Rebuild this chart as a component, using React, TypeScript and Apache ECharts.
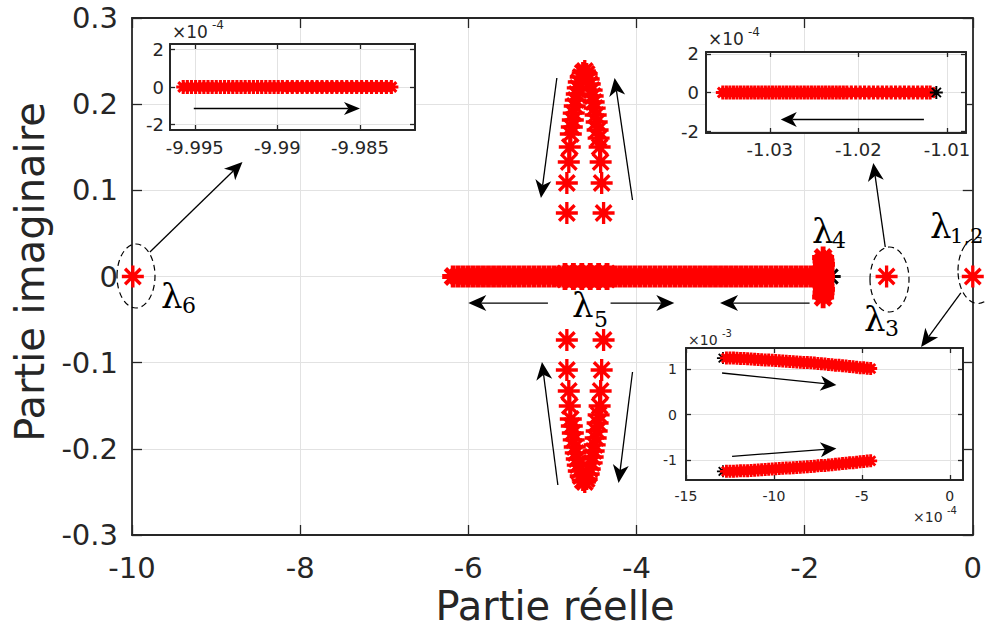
import { useEffect, useRef } from 'react';
import * as echarts from 'echarts';

// ---------- tick values / labels ----------
const mainXTicks = [-10, -8, -6, -4, -2, 0];
const mainXTickLabels = ['-10', '-8', '-6', '-4', '-2', '0'];
const mainYTicks = [-0.3, -0.2, -0.1, 0, 0.1, 0.2, 0.3];
const mainYTickLabels = ['-0.3', '-0.2', '-0.1', '0', '0.1', '0.2', '0.3'];

const tlXTicks = [-9.995, -9.99, -9.985];
const tlXTickLabels = ['-9.995', '-9.99', '-9.985'];
const tlYTicks = [-2, 0, 2];
const tlYTickLabels = ['-2', '0', '2'];

const trXTicks = [-1.03, -1.02, -1.01];
const trXTickLabels = ['-1.03', '-1.02', '-1.01'];
const trYTicks = [-2, 0, 2];
const trYTickLabels = ['-2', '0', '2'];

const brXTicks = [-15, -10, -5, 0];
const brXTickLabels = ['-15', '-10', '-5', '0'];
const brYTicks = [-1, 0, 1];
const brYTickLabels = ['-1', '0', '1'];

// ---------- main plot data ----------
const lambda6 = [[-9.99, 0]];
const lambda3 = [[-1.025, 0]];
const lambda12 = [[0, 0]];
const mainInitial = [[-1.69, 0]];

const lambda4Re = [-1.78, -1.775, -1.77, -1.775, -1.78, -1.775, -1.77, -1.775, -1.78, -1.775, -1.77, -1.775, -1.78];
const lambda4Im = [0.022, 0.018, 0.014, 0.01, 0.006, 0.003, 0, -0.003, -0.007, -0.011, -0.015, -0.019, -0.024];

const lambda5Re = [
  -6.18, -6.12, -6.06, -6.0, -5.94, -5.88, -5.82, -5.76, -5.7, -5.64, -5.58, -5.52, -5.46, -5.4, -5.34,
  -5.28, -5.22, -5.16, -5.1, -5.04, -4.98, -4.92, -4.86, -4.8, -4.74, -4.68, -4.62, -4.56, -4.5, -4.44,
  -4.38, -4.32, -4.26, -4.2, -4.14, -4.08, -4.02, -3.96, -3.9, -3.84, -3.78, -3.72, -3.66, -3.6, -3.54,
  -3.48, -3.42, -3.36, -3.3, -3.24, -3.18, -3.12, -3.06, -3.0, -2.94, -2.88, -2.82, -2.76, -2.7, -2.64,
  -2.58, -2.52, -2.46, -2.4, -2.34, -2.28, -2.22, -2.16, -2.1, -2.04, -1.98, -1.92, -1.86, -1.8,
];
const lambda5BlobRe = [-4.85, -4.75, -4.65, -4.55, -4.45, -4.35];
const lambda5BlobIm = 0.003;

// complex loop (upper half; lower half is its conjugate)
const loopRe = [
  -4.391, -4.414, -4.426, -4.438, -4.45, -4.462, -4.473, -4.485, -4.497, -4.509, -4.521, -4.533, -4.556, -4.568, -4.592, -4.615,
  -4.639, -4.663, -4.686, -4.698, -4.71, -4.722, -4.734, -4.746, -4.757, -4.769, -4.781, -4.793, -4.805, -4.828, -4.828,
];
const loopIm = [
  0.0737, 0.1085, 0.1329, 0.1503, 0.1607, 0.17, 0.1793, 0.1874, 0.1955, 0.2025, 0.2095, 0.2164, 0.2234, 0.2292, 0.235, 0.2385,
  0.2362, 0.2315, 0.2257, 0.2188, 0.2118, 0.2048, 0.1979, 0.1897, 0.1816, 0.1735, 0.1654, 0.1503, 0.1329, 0.1085, 0.0737,
];

// ---------- inset data ----------
const tlRe = [
  -9.9957, -9.99545, -9.9952, -9.99495, -9.9947, -9.99445, -9.9942, -9.99395, -9.9937, -9.99345, -9.9932, -9.99295,
  -9.9927, -9.99245, -9.9922, -9.99195, -9.9917, -9.99145, -9.9912, -9.99095, -9.9907, -9.99045, -9.9902, -9.98995,
  -9.9897, -9.9894, -9.9891, -9.9888, -9.9885, -9.9882, -9.9879, -9.9876, -9.9873, -9.987, -9.9867, -9.9864, -9.9861,
  -9.9858, -9.9855, -9.9852, -9.9849, -9.9846, -9.9843, -9.984, -9.9837, -9.9834, -9.9831,
];
const trRe = [
  -1.0353, -1.0349, -1.0345, -1.0341, -1.0337, -1.0333, -1.0329, -1.0325, -1.0321, -1.0317, -1.0313, -1.0309,
  -1.0305, -1.0301, -1.0297, -1.0293, -1.0289, -1.0285, -1.0281, -1.0277, -1.0273, -1.0269, -1.0265, -1.0261,
  -1.0257, -1.0253, -1.0249, -1.0245, -1.0241, -1.0237, -1.0233, -1.0229, -1.0225, -1.0221, -1.0217, -1.0213,
  -1.0208, -1.0203, -1.0198, -1.0193, -1.0188, -1.0183, -1.0178, -1.0173, -1.0168, -1.0163, -1.0158, -1.0153,
  -1.0148, -1.0143, -1.0138, -1.0133, -1.0128, -1.0123, -1.0119,
];
const trInitial = [[-1.0112, 0]];
// bottom-right inset: real part x1e-4, imaginary part x1e-3 (upper branch)
const brRe = [
  -12.7, -12.5, -12.3, -12.1, -11.9, -11.7, -11.5, -11.3, -11.1, -10.9, -10.7, -10.5, -10.3, -10.1, -9.9, -9.7,
  -9.5, -9.3, -9.1, -8.9, -8.7, -8.5, -8.3, -8.1, -7.9, -7.7, -7.5, -7.3, -7.1, -6.9, -6.7, -6.5, -6.3, -6.1,
  -5.9, -5.7, -5.5, -5.3, -5.1, -4.9, -4.7, -4.5,
];
const brIm = [
  1.24, 1.24, 1.24, 1.235, 1.23, 1.23, 1.225, 1.22, 1.215, 1.21, 1.205, 1.2, 1.195, 1.19, 1.185, 1.18,
  1.175, 1.17, 1.165, 1.16, 1.155, 1.15, 1.145, 1.14, 1.135, 1.13, 1.12, 1.115, 1.11, 1.1, 1.095, 1.085, 1.08, 1.07,
  1.065, 1.055, 1.05, 1.04, 1.03, 1.025, 1.015, 1.01,
];
const brInitial = [[-12.9, 1.24], [-12.9, -1.24]];

// ---------- arrows [x1, y1, x2(head), y2(head)] in each axes' data units ----------
const mainArrows = [
  [-9.787, 0.0284, -8.686, 0.1329],
  [-1.041, 0.0342, -1.183, 0.1317],
  [-0.142, -0.0191, -0.615, -0.0818],
  [-5.053, -0.0308, -6.0, -0.0308],
  [-4.308, -0.0308, -3.55, -0.0308],
  [-1.941, -0.0308, -3.006, -0.0308],
  [-4.947, 0.2304, -5.136, 0.0911],
  [-4.047, 0.0888, -4.26, 0.2304],
  [-4.935, -0.242, -5.124, -0.0992],
  [-4.047, -0.1108, -4.213, -0.2396],
];
const tlArrows = [[-9.99506, -1.15, -9.985, -1.15]];
const trArrows = [[-1.0126, -1.4, -1.02876, -1.4]];
const brArrows = [
  [-12.95, 0.913, -6.45, 0.652],
  [-12.38, -0.913, -6.45, -0.739],
];

// ---------- styling ----------
const AX = '#262626';
const GRIDC = '#e2e2e2';
const FONT = 'DejaVu Sans';
const RED = '#ff0000';
const STAR =
  'path://M-1,-0.15L1,-0.15L1,0.15L-1,0.15Z M-0.15,-1L0.15,-1L0.15,1L-0.15,1Z ' +
  'M0.813,0.601L0.601,0.813L-0.813,-0.601L-0.601,-0.813Z M0.601,-0.813L0.813,-0.601L-0.601,0.813L-0.813,0.601Z';
const STAR_THICK =
  'path://M-1,-0.22L1,-0.22L1,0.22L-1,0.22Z M-0.22,-1L0.22,-1L0.22,1L-0.22,1Z ' +
  'M0.863,0.551L0.551,0.863L-0.863,-0.551L-0.551,-0.863Z M0.551,-0.863L0.863,-0.551L-0.551,0.863L-0.863,0.551Z';

const fmt = (ticks: number[], labels: string[]) => (v: number) => {
  const i = ticks.findIndex((t) => Math.abs(t - v) < 1e-9);
  return i >= 0 ? labels[i] : '';
};

function axisPair(
  kind: 'x' | 'y',
  gridIndex: number,
  min: number,
  max: number,
  ticks: number[],
  labels: string[],
  fontSize: number,
  margin: number,
  tickLen: number,
  lineWidth: number,
  z: number
) {
  const common: any = { type: 'value', gridIndex, min, max, z, silent: true };
  const line = { show: true, onZero: false, lineStyle: { color: AX, width: lineWidth } };
  const tick = { show: true, inside: true, length: tickLen, customValues: ticks, lineStyle: { color: AX, width: 1.3 } };
  const primary = {
    ...common,
    position: kind === 'x' ? 'bottom' : 'left',
    axisLine: line,
    axisTick: tick,
    axisLabel: {
      show: true,
      customValues: ticks,
      formatter: fmt(ticks, labels),
      color: AX,
      fontSize,
      fontFamily: FONT,
      margin,
    },
    splitLine: { show: true, lineStyle: { color: GRIDC, width: 1 } },
  };
  const secondary = {
    ...common,
    position: kind === 'x' ? 'top' : 'right',
    axisLine: line,
    axisTick: tick,
    axisLabel: { show: false },
    splitLine: { show: false },
  };
  return [primary, secondary];
}

const pts = (re: number[], im: number[] | number) =>
  re.map((x, i) => [x, typeof im === 'number' ? im : im[i]]);

function stars(ai: number, data: number[][], size: number, color: string, z: number, symbol = STAR) {
  return {
    type: 'scatter',
    xAxisIndex: ai,
    yAxisIndex: ai,
    data,
    symbol,
    symbolSize: size,
    itemStyle: { color, opacity: 1 },
    z,
    silent: true,
    clip: false,
  };
}

function arrows(ai: number, data: number[][], headLen: number, headW: number, lw: number, z: number) {
  return {
    type: 'custom',
    xAxisIndex: ai,
    yAxisIndex: ai,
    data,
    z,
    silent: true,
    clip: false,
    encode: { x: [0, 2], y: [1, 3] },
    renderItem: (_p: any, api: any) => {
      const p1 = api.coord([api.value(0), api.value(1)]);
      const p2 = api.coord([api.value(2), api.value(3)]);
      const dx = p2[0] - p1[0];
      const dy = p2[1] - p1[1];
      const L = Math.hypot(dx, dy) || 1;
      const ux = dx / L;
      const uy = dy / L;
      const bx = p2[0] - ux * headLen;
      const by = p2[1] - uy * headLen;
      const nx = p2[0] - ux * headLen * 0.72;
      const ny = p2[1] - uy * headLen * 0.72;
      const hw = headW / 2;
      return {
        type: 'group',
        children: [
          {
            type: 'line',
            shape: { x1: p1[0], y1: p1[1], x2: nx, y2: ny },
            style: { stroke: '#000', lineWidth: lw, fill: 'none' },
          },
          {
            type: 'polygon',
            shape: {
              points: [
                [p2[0], p2[1]],
                [bx - uy * hw, by + ux * hw],
                [nx, ny],
                [bx + uy * hw, by - ux * hw],
              ],
            },
            style: { fill: '#000', stroke: 'none' },
          },
        ],
      };
    },
  };
}

function txt(x: number, y: number, text: string, fontSize: number, family: string, extra: any = {}) {
  return {
    type: 'text',
    x,
    y,
    z: 20,
    silent: true,
    ...extra,
    style: {
      text,
      fontSize,
      fontFamily: family,
      fill: extra.fill || '#000',
      textAlign: extra.align || 'left',
      align: extra.align || 'left',
      textVerticalAlign: 'middle',
      verticalAlign: 'middle',
    },
  };
}

function ellipse(cx: number, cy: number, rx: number, ry: number) {
  return {
    type: 'ellipse',
    z: 5,
    silent: true,
    shape: { cx, cy, rx, ry },
    style: { fill: 'none', stroke: '#000', lineWidth: 1.2, lineDash: [6, 4] },
  };
}

function buildOption() {
  const mX = axisPair('x', 0, -10, 0, mainXTicks, mainXTickLabels, 29, 18, 10, 1.8, 0);
  const mY = axisPair('y', 0, -0.3, 0.3, mainYTicks, mainYTickLabels, 29, 14, 10, 1.8, 0);
  const tX = axisPair('x', 1, -9.9965, -9.98167, tlXTicks, tlXTickLabels, 18, 8, 5, 2, 4);
  const tY = axisPair('y', 1, -2.3, 2.3, tlYTicks, tlYTickLabels, 18, 6, 5, 2, 4);
  const rX = axisPair('x', 2, -1.0372, -1.00785, trXTicks, trXTickLabels, 18, 7, 5, 2, 4);
  const rY = axisPair('y', 2, -2.1, 2.1, trYTicks, trYTickLabels, 18, 7, 5, 2, 4);
  const bX = axisPair('x', 3, -15, 0.75, brXTicks, brXTickLabels, 14, 9, 5, 2, 4);
  const bY = axisPair('y', 3, -1.43, 1.46, brYTicks, brYTickLabels, 14, 9, 5, 2, 4);

  const insetGrid = (left: number, top: number, width: number, height: number) => ({
    left,
    top,
    width,
    height,
    show: true,
    backgroundColor: '#ffffff',
    borderWidth: 0,
    z: 3,
  });

  const bandRed = [
    ...pts(lambda5Re, 0),
    ...pts(lambda5BlobRe, lambda5BlobIm),
    ...pts(lambda5BlobRe, -lambda5BlobIm),
    ...pts(lambda4Re, lambda4Im),
  ];
  const isolatedRed = [...lambda6, ...lambda3, ...lambda12];

  return {
    animation: false,
    backgroundColor: '#ffffff',
    grid: [
      { left: 132, top: 18, width: 845, height: 517, show: false },
      insetGrid(170, 44, 245, 86),
      insetGrid(706, 52, 260, 81),
      insetGrid(686, 348, 277, 132),
    ],
    xAxis: [...mX, ...tX, ...rX, ...bX],
    yAxis: [...mY, ...tY, ...rY, ...bY],
    series: [
      stars(0, mainInitial, 20, '#000', 2),
      stars(0, bandRed, 22, RED, 2, STAR_THICK),
      stars(0, isolatedRed, 22, RED, 2),
      stars(0, pts(loopRe, loopIm), 22, RED, 2),
      stars(0, pts(loopRe, loopIm.map((v) => -v)), 22, RED, 2),
      arrows(0, mainArrows, 18, 16, 1.3, 2),

      stars(2, pts(tlRe, 0), 14, RED, 6, STAR_THICK),
      arrows(2, tlArrows, 16, 13, 1.3, 6),

      stars(4, pts(trRe, 0), 14, RED, 6, STAR_THICK),
      stars(4, trInitial, 13, '#000', 6),
      arrows(4, trArrows, 16, 15, 1.3, 6),

      stars(6, brInitial, 12, '#000', 6),
      stars(6, pts(brRe, brIm), 13, RED, 6, STAR_THICK),
      stars(6, pts(brRe, brIm.map((v) => -v)), 13, RED, 6, STAR_THICK),
      arrows(6, brArrows, 16, 15, 1.3, 6),
    ],
    graphic: [
      ellipse(136, 276, 19, 32),
      ellipse(889.5, 279.5, 19.5, 32.5),
      ellipse(978, 270.5, 20, 33),

      txt(161, 296, 'λ', 34, 'DejaVu Serif'),
      txt(182, 305, '6', 22, 'DejaVu Serif'),
      txt(864, 319, 'λ', 34, 'DejaVu Serif'),
      txt(885, 328, '3', 22, 'DejaVu Serif'),
      txt(930, 226, 'λ', 34, 'DejaVu Serif'),
      txt(950, 236, '1,2', 21, 'DejaVu Serif'),
      txt(812, 231, 'λ', 34, 'DejaVu Serif'),
      txt(832, 240, '4', 22, 'DejaVu Serif'),
      txt(572, 305, 'λ', 34, 'DejaVu Serif'),
      txt(594, 319, '5', 22, 'DejaVu Serif'),

      txt(172, 32, '×10', 17, FONT, { fill: AX }),
      txt(212, 25, '-4', 12, FONT, { fill: AX }),
      txt(708, 39, '×10', 17, FONT, { fill: AX }),
      txt(748, 32, '-4', 12, FONT, { fill: AX }),
      txt(688, 340, '×10', 14, FONT, { fill: AX }),
      txt(722, 333, '-3', 10, FONT, { fill: AX }),
      txt(913, 517, '×10', 14, FONT, { fill: AX }),
      txt(947, 510, '-4', 10, FONT, { fill: AX }),

      txt(555, 606, 'Partie réelle', 40, FONT, { fill: AX, align: 'center' }),
      txt(30, 272, 'Partie imaginaire', 40, FONT, { fill: AX, align: 'center', rotation: Math.PI / 2 }),
    ],
  };
}

export default function App() {
  const ref = useRef<HTMLDivElement>(null);
  useEffect(() => {
    if (!ref.current) return;
    const chart = echarts.init(ref.current, undefined, { renderer: 'svg' });
    chart.setOption(buildOption() as any);
    return () => chart.dispose();
  }, []);
  return (
    <div
      ref={ref}
      style={{ position: 'absolute', left: 0, top: 0, width: 985, height: 637, background: '#ffffff' }}
    />
  );
}
